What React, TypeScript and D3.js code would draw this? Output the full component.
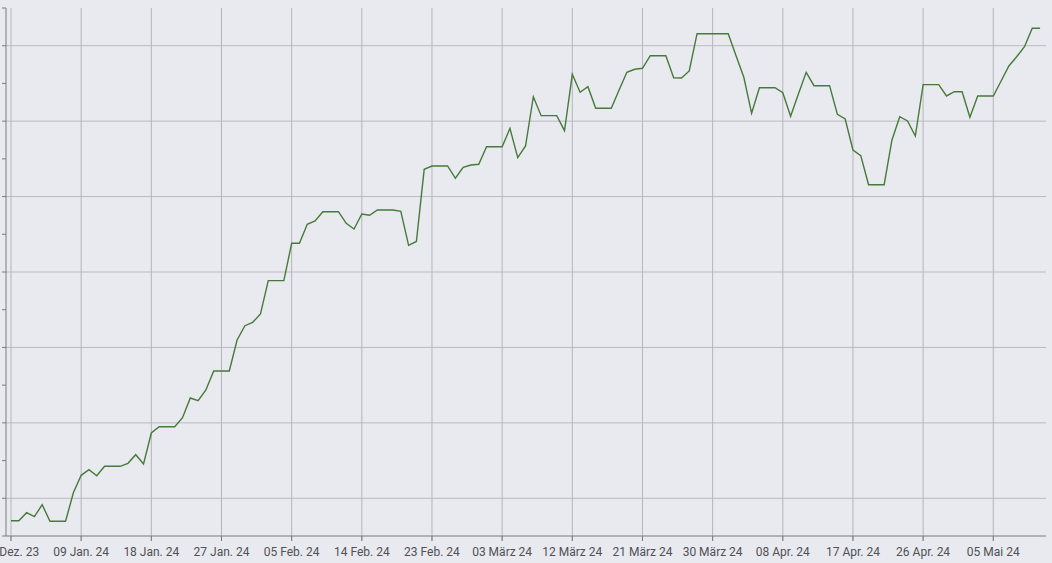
import React from "react";
import * as d3 from "d3";

const START_DATE = "2023-12-31";
const VALUES: number[] = [
  0.406, 0.406, 0.618, 0.512, 0.83, 0.39, 0.39, 0.39, 1.148, 1.609,
  1.758, 1.599, 1.848, 1.848, 1.848, 1.928, 2.156, 1.909, 2.731, 2.898,
  2.898, 2.898, 3.137, 3.659, 3.588, 3.871, 4.375, 4.375, 4.375, 5.197,
  5.576, 5.666, 5.886, 6.77, 6.77, 6.77, 7.761, 7.761, 8.265, 8.352,
  8.599, 8.599, 8.599, 8.291, 8.14, 8.538, 8.503, 8.644, 8.644, 8.644,
  8.61, 7.708, 7.809, 9.723, 9.811, 9.811, 9.811, 9.485, 9.776, 9.837,
  9.856, 10.323, 10.323, 10.323, 10.81, 10.031, 10.341, 11.648, 11.145, 11.145,
  11.145, 10.747, 12.242, 11.765, 11.913, 11.341, 11.341, 11.341, 11.826, 12.295,
  12.375, 12.401, 12.735, 12.735, 12.735, 12.152, 12.144, 12.33, 13.319, 13.319,
  13.319, 13.319, 13.319, 12.735, 12.163, 11.208, 11.887, 11.887, 11.887, 11.754,
  11.129, 11.72, 12.295, 11.94, 11.94, 11.94, 11.181, 11.057, 10.235, 10.084,
  9.315, 9.315, 9.315, 10.5, 11.118, 11.004, 10.606, 11.967, 11.967, 11.967,
  11.667, 11.781, 11.781, 11.102, 11.667, 11.667, 11.667, 12.065, 12.462, 12.709,
  12.974, 13.462, 13.462,
];
const X_TICK_DATES = [
  "2023-12-31", "2024-01-09", "2024-01-18", "2024-01-27", "2024-02-05",
  "2024-02-14", "2024-02-23", "2024-03-03", "2024-03-12", "2024-03-21",
  "2024-03-30", "2024-04-08", "2024-04-17", "2024-04-26", "2024-05-05",
];
const X_TICK_LABELS = [
  "31 Dez. 23", "09 Jan. 24", "18 Jan. 24", "27 Jan. 24", "05 Feb. 24",
  "14 Feb. 24", "23 Feb. 24", "03 März 24", "12 März 24", "21 März 24",
  "30 März 24", "08 Apr. 24", "17 Apr. 24", "26 Apr. 24", "05 Mai 24",
];
const Y_TICKS = [0, 1, 2, 3, 4, 5, 6, 7, 8, 9, 10, 11, 12, 13, 14];
const Y_GRID = [1, 3, 5, 7, 9, 11, 13];

const W = 1052;
const H = 563;

export default function App() {
  const parse = d3.utcParse("%Y-%m-%d");
  const start = parse(START_DATE) as Date;
  const data = VALUES.map((v, i) => ({ date: d3.utcDay.offset(start, i), v }));
  const last = data[data.length - 1].date;

  const x = d3.scaleUtc().domain([start, last]).range([11, 11 + 132 * 7.796]);
  const y = d3.scaleLinear().domain([0, 14]).range([536, 8]);

  const line = d3
    .line<{ date: Date; v: number }>()
    .x((d) => x(d.date))
    .y((d) => y(d.v));

  const axisLeft = 6;
  const axisRight = 1046;
  const tickDates = X_TICK_DATES.map((s) => parse(s) as Date);

  return (
    <svg
      width={W}
      height={H}
      style={{ position: "fixed", left: 0, top: 0, display: "block" }}
      fontFamily="Roboto, sans-serif"
    >
      <rect x={0} y={0} width={W} height={H} fill="#e9eaef" />
      {Y_GRID.map((t) => (
        <line key={"hg" + t} x1={axisLeft} x2={axisRight} y1={y(t)} y2={y(t)} stroke="#b9b9be" strokeWidth={1} />
      ))}
      {tickDates.map((d, i) => (
        <line key={"vg" + i} x1={x(d)} x2={x(d)} y1={y(14)} y2={y(0) + 5} stroke="#b4b4ba" strokeWidth={1} />
      ))}
      <line x1={axisLeft} x2={axisLeft} y1={y(14)} y2={y(0)} stroke="#7a7a80" strokeWidth={1} />
      {Y_TICKS.map((t) => (
        <line key={"yt" + t} x1={axisLeft - 4} x2={axisLeft} y1={y(t)} y2={y(t)} stroke="#7a7a80" strokeWidth={1} />
      ))}
      <line x1={axisLeft} x2={axisRight} y1={y(0)} y2={y(0)} stroke="#7a7a80" strokeWidth={1} />
      {tickDates.map((d, i) => (
        <line key={"xt" + i} x1={x(d)} x2={x(d)} y1={y(0)} y2={y(0) + 5} stroke="#7a7a80" strokeWidth={1} />
      ))}
      {tickDates.map((d, i) => (
        <text key={"xl" + i} x={x(d)} y={556} textAnchor="middle" fontSize={12} fill="#505055">
          {X_TICK_LABELS[i]}
        </text>
      ))}
      <path d={line(data) || ""} fill="none" stroke="#467a3a" strokeWidth={1.4} strokeLinejoin="miter" />
    </svg>
  );
}
